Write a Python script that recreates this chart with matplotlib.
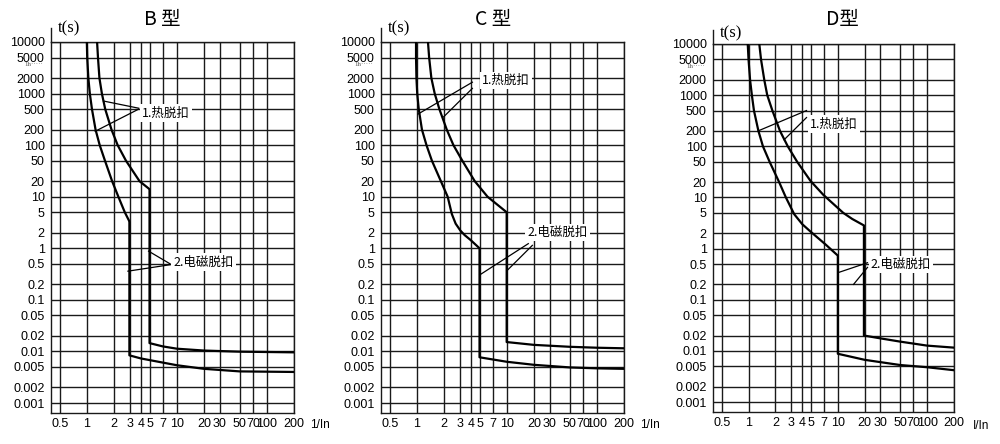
import matplotlib
matplotlib.use('Agg')
import matplotlib.pyplot as plt
import matplotlib.transforms as mtransforms
from matplotlib.ticker import NullLocator, FixedLocator, FixedFormatter

plt.rcParams['font.family'] = ['Liberation Sans', 'Noto Sans CJK SC', 'DejaVu Sans']

# axis ticks shared by the three charts
x_ticks = [0.5, 1, 2, 3, 4, 5, 7, 10, 20, 30, 50, 70, 100, 200]
x_tick_labels = ['0.5', '1', '2', '3', '4', '5', '7', '10', '20', '30', '50', '70', '100', '200']
y_ticks = [10000, 5000, 2000, 1000, 500, 200, 100, 50, 20, 10, 5, 2, 1,
           0.5, 0.2, 0.1, 0.05, 0.02, 0.01, 0.005, 0.002, 0.001]
y_tick_labels = ['10000', '5000', '2000', '1000', '500', '200', '100', '50', '20', '10', '5', '2', '1',
                 '0.5', '0.2', '0.1', '0.05', '0.02', '0.01', '0.005', '0.002', '0.001']

titles = ['B 型', 'C 型', 'D型']
x_labels = ['1/In', '1/In', 'I/In']
thermal_text = '1.热脱扣'
magnetic_text = '2.电磁脱扣'

# B type curves (I/In, seconds)
b_curve1_x = [1.0, 1.01, 1.04, 1.08, 1.14, 1.25, 1.39, 1.59, 1.91, 2.24, 2.64, 2.95, 2.97, 2.97,
              4.0, 10, 20, 50, 200]
b_curve1_t = [10000, 5000, 2000, 1000, 500, 200, 100, 50, 20, 10, 5, 3.4, 3.2, 0.0084,
              0.0073, 0.0054, 0.0046, 0.0041, 0.0040]
b_curve2_x = [1.30, 1.33, 1.38, 1.47, 1.60, 1.88, 2.2, 2.72, 3.85, 4.92, 4.97, 4.97,
              7, 10, 20, 50, 200]
b_curve2_t = [10000, 5000, 2000, 1000, 500, 200, 100, 50, 20, 14.2, 13.5, 0.0145,
              0.0125, 0.0113, 0.0104, 0.0099, 0.0096]

# C type curves
c_curve1_x = [0.98, 0.98, 0.99, 1.01, 1.05, 1.14, 1.28, 1.47, 1.85, 2.2, 2.45, 2.7, 3.05, 3.4, 3.95,
              4.97, 4.97, 10, 20, 50, 100, 200]
c_curve1_t = [10000, 5000, 2000, 1000, 500, 200, 100, 50, 20, 10, 4.6, 3.0, 2.2, 1.8, 1.45,
              1.0, 0.0077, 0.0063, 0.0055, 0.0049, 0.0047, 0.0046]
c_curve2_x = [1.33, 1.37, 1.45, 1.58, 1.78, 2.15, 2.55, 3.2, 4.4, 6.1, 9.95, 9.95,
              20, 50, 100, 200]
c_curve2_t = [10000, 5000, 2000, 1000, 500, 200, 100, 50, 20, 10, 5.0, 0.0152,
              0.0134, 0.0123, 0.0118, 0.0115]

# D type curves
d_curve1_x = [0.98, 1.0, 1.04, 1.09, 1.15, 1.29, 1.45, 1.72, 2.2, 2.62, 3.25, 4.0, 4.95, 7.35, 10.0, 10.0,
              20, 50, 100, 200]
d_curve1_t = [10000, 5000, 2000, 1000, 500, 200, 100, 50, 20, 10, 4.7, 3.0, 2.15, 1.19, 0.73, 0.0088,
              0.0067, 0.0053, 0.0048, 0.0042]
d_curve2_x = [1.32, 1.38, 1.50, 1.62, 1.85, 2.25, 2.75, 3.5, 4.95, 6.9, 11.5, 14.5, 19.6, 19.6,
              30, 50, 100, 200]
d_curve2_t = [10000, 5000, 2000, 1000, 500, 200, 100, 50, 21, 11.2, 5.0, 3.8, 2.84, 0.02,
              0.0176, 0.0152, 0.0127, 0.0116]

# label anchor points and leader lines (data coords)
b_thermal_xy = (4.09, 420)
b_thermal_leaders = [((3.77, 520), (1.53, 717)), ((3.77, 500), (1.24, 186))]
b_magnetic_xy = (9.1, 0.54)
b_magnetic_leaders = [((8.4, 0.5), (4.85, 0.88)), ((8.4, 0.48), (2.86, 0.36))]

c_thermal_xy = (5.34, 1770)
c_thermal_leaders = [((4.14, 1660), (1.03, 400)), ((4.14, 1260), (1.98, 352))]
c_magnetic_xy = (16.9, 2.0)
c_magnetic_leaders = [((17.3, 1.23), (5.0, 0.305)), ((19.2, 1.14), (10.2, 0.38))]

d_thermal_xy = (4.9, 274)
d_thermal_leaders = [((4.46, 500), (1.28, 200)), ((4.46, 365), (2.5, 134))]
d_magnetic_xy = (23.4, 0.49)
d_magnetic_leaders = [((21.5, 0.53), (10.1, 0.34)), ((21.5, 0.43), (15, 0.2))]

panels = [
    dict(box=(51, 294, 42, 413), title_xy=(162, 19), ts_xy=(58, 28), xl_xy=(310, 425),
         curves=[(b_curve1_x, b_curve1_t), (b_curve2_x, b_curve2_t)],
         labels=[(b_thermal_xy, b_thermal_leaders, thermal_text), (b_magnetic_xy, b_magnetic_leaders, magnetic_text)]),
    dict(box=(381, 624, 42, 413), title_xy=(493, 19), ts_xy=(388, 28), xl_xy=(640, 425),
         curves=[(c_curve1_x, c_curve1_t), (c_curve2_x, c_curve2_t)],
         labels=[(c_thermal_xy, c_thermal_leaders, thermal_text), (c_magnetic_xy, c_magnetic_leaders, magnetic_text)]),
    dict(box=(713, 954, 44, 412), title_xy=(842, 20), ts_xy=(720, 33), xl_xy=(973, 426),
         curves=[(d_curve1_x, d_curve1_t), (d_curve2_x, d_curve2_t)],
         labels=[(d_thermal_xy, d_thermal_leaders, thermal_text), (d_magnetic_xy, d_magnetic_leaders, magnetic_text)]),
]

W, H = 1000, 444
fig = plt.figure(figsize=(W / 100, H / 100), dpi=100)
line_col = '#1a1a1a'

for i, p in enumerate(panels):
    l, r, t, b = p['box']
    ax = fig.add_axes([l / W, 1 - b / H, (r - l) / W, (b - t) / H])
    ax.set_xscale('log')
    ax.set_yscale('log')
    ax.set_xlim(0.4, 200)
    ax.set_ylim(0.00064, 10000)

    ax.xaxis.set_major_locator(FixedLocator(x_ticks))
    ax.xaxis.set_major_formatter(FixedFormatter(x_tick_labels))
    ax.yaxis.set_major_locator(FixedLocator(y_ticks))
    ax.yaxis.set_major_formatter(FixedFormatter(y_tick_labels))
    ax.xaxis.set_minor_locator(NullLocator())
    ax.yaxis.set_minor_locator(NullLocator())
    ax.tick_params(axis='both', length=0, labelsize=9, colors='black')
    ax.tick_params(axis='x', pad=3.5)
    ax.tick_params(axis='y', pad=4.5)
    ax.grid(True, color=line_col, lw=1.0)
    ax.set_axisbelow(True)
    for s in ax.spines.values():
        s.set_color(line_col)
        s.set_linewidth(1.0)

    # left axis runs a bit above the plot
    ax.plot([0, 0], [1, 1 + 14 / (b - t)], transform=ax.transAxes, clip_on=False,
            color=line_col, lw=1.0)

    for cx, ct in p['curves']:
        ax.plot(cx, ct, color='black', lw=1.6, zorder=3, solid_joinstyle='round')

    for (tx, ty), leaders, txt in p['labels']:
        for (x0, y0), (x1, y1) in leaders:
            ax.plot([x0, x1], [y0, y1], color='black', lw=0.9, zorder=4)
        ax.text(tx, ty, txt, fontsize=9, ha='left', va='center', zorder=5,
                family=['Noto Sans CJK SC'],
                bbox=dict(facecolor='white', edgecolor='none', pad=1.5))

    trans = mtransforms.blended_transform_factory(ax.transAxes, ax.transData)
    ax.text(-0.03, 3600, '1h·····', transform=trans, ha='right', va='center',
            fontsize=5, color='#555555', family='Liberation Serif')

    fig.text(p['title_xy'][0] / W, 1 - p['title_xy'][1] / H, titles[i], fontsize=14,
             ha='center', va='center', family=['Noto Sans CJK SC'])
    fig.text(p['ts_xy'][0] / W, 1 - p['ts_xy'][1] / H, 't(s)', fontsize=12,
             ha='left', va='center', family='Liberation Serif')
    fig.text(p['xl_xy'][0] / W, 1 - p['xl_xy'][1] / H, x_labels[i], fontsize=8.5,
             ha='left', va='center')

fig.savefig('out.png', dpi=100)
